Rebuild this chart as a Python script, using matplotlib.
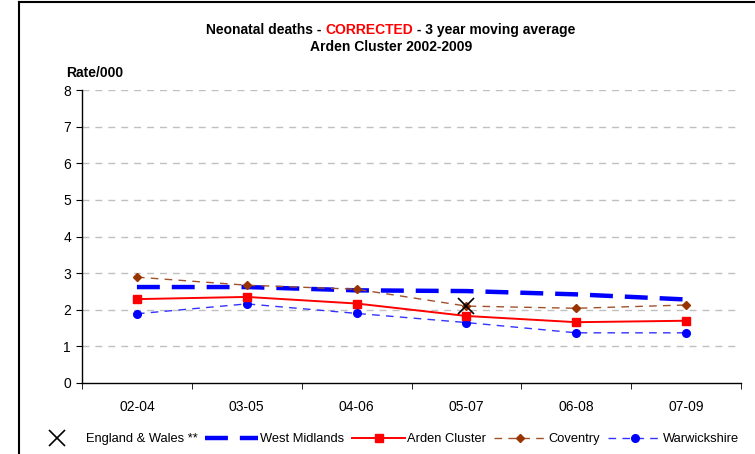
import matplotlib
matplotlib.use("Agg")
import matplotlib.pyplot as plt
from matplotlib.lines import Line2D

plt.rcParams["font.family"] = ["Liberation Sans", "DejaVu Sans"]
plt.rcParams["lines.scale_dashes"] = False

# data
periods = ["02-04", "03-05", "04-06", "05-07", "06-08", "07-09"]
west_midlands = [2.62, 2.62, 2.53, 2.51, 2.42, 2.28]
arden = [2.29, 2.35, 2.17, 1.83, 1.66, 1.70]
coventry = [2.89, 2.67, 2.56, 2.10, 2.04, 2.13]
warwickshire = [1.89, 2.16, 1.90, 1.65, 1.37, 1.37]
england_wales_period = "05-07"
england_wales = 2.10

W, H = 755, 454
fig = plt.figure(figsize=(W / 100, H / 100), dpi=100)
ax = fig.add_axes([82 / W, 1 - 383 / H, (741 - 82) / W, (383 - 90) / H])

x = list(range(len(periods)))

# gridlines
for v in range(1, 9):
    ax.axhline(v, color="#c0c0c0", lw=1, dashes=(5, 4.3), zorder=0)

ax.plot(x, west_midlands, color="#0000ff", lw=3.2, dashes=(16.5, 8.6),
        solid_capstyle="butt", label="West Midlands", zorder=3)
ax.plot(x, coventry, color="#a0522d", lw=1, dashes=(5.5, 4.5),
        marker="D", ms=4, mfc="#993300", mec="#993300", label="Coventry", zorder=4)
ax.plot(x, warwickshire, color="#3333ff", lw=1, dashes=(5.5, 4.5),
        marker="o", ms=5.5, mfc="#0000ff", mec="#0000ff", label="Warwickshire", zorder=4)
ax.plot(x, arden, color="#ff0000", lw=1.4, marker="s", ms=5.5,
        mfc="#ff0000", mec="#ff0000", label="Arden Cluster", zorder=5)
ax.plot([periods.index(england_wales_period)], [england_wales], ls="none",
        marker="x", ms=12, mew=1.2, color="black", label="England & Wales **", zorder=6)

ax.set_xlim(-0.5, len(periods) - 0.5)
ax.set_ylim(0, 8)
ax.set_xticks(x)
ax.set_xticklabels(periods, fontsize=10)
ax.set_xticks([i - 0.5 for i in range(len(periods) + 1)], minor=True)
ax.tick_params(axis="x", which="major", length=0, pad=12)
ax.tick_params(axis="x", which="minor", length=4, direction="out")
ax.set_yticks(range(0, 9))
ax.tick_params(axis="y", length=4, direction="out", labelsize=10, pad=4)
for s in ["top", "right"]:
    ax.spines[s].set_visible(False)
for s in ["left", "bottom"]:
    ax.spines[s].set_linewidth(1)

# y axis label
fig.text(66 / W, 1 - 73 / H, "Rate/000", fontsize=10, fontweight="bold",
         ha="left", va="center")

# title with red word
fig.canvas.draw()
r = fig.canvas.get_renderer()
parts = [("Neonatal deaths - ", "black"), ("CORRECTED", "#ff0000"),
         (" - 3 year moving average", "black")]
texts = [fig.text(0, 1 - 30 / H, p, color=c, fontsize=10, fontweight="bold",
                  ha="left", va="center") for p, c in parts]
widths = [t.get_window_extent(renderer=r).width for t in texts]
start = 391 - sum(widths) / 2
for t, w in zip(texts, widths):
    t.set_x(start / W)
    start += w
fig.text(391 / W, 1 - 47 / H, "Arden Cluster 2002-2009", fontsize=10,
         fontweight="bold", ha="center", va="center")

# legend in Excel order
h, l = ax.get_legend_handles_labels()
order = ["England & Wales **", "West Midlands", "Arden Cluster", "Coventry", "Warwickshire"]
hd = dict(zip(l, h))
fig.legend([hd[k] for k in order], order, loc="center", ncol=5,
           bbox_to_anchor=(385 / W, 1 - 439 / H), frameon=False, fontsize=9.3,
           handlelength=4.1, handletextpad=0.15, columnspacing=0.6, borderpad=0)

# chart area border
fig.add_artist(Line2D([19 / W, 19 / W], [0, 1 - 2 / H], transform=fig.transFigure,
                      color="black", lw=1.5))
fig.add_artist(Line2D([19 / W, 1], [1 - 2 / H, 1 - 2 / H], transform=fig.transFigure,
                      color="black", lw=1.5))

fig.savefig("out.png", dpi=100)
